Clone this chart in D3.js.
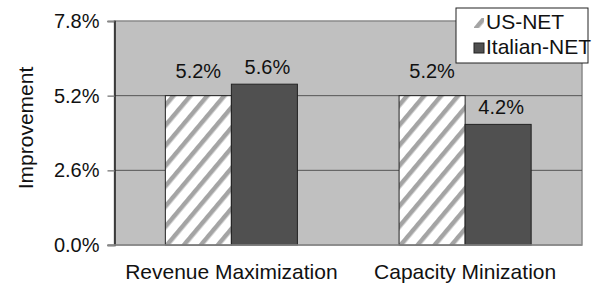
<!DOCTYPE html>
<html>
<head>
<meta charset="utf-8">
<script src="https://cdn.jsdelivr.net/npm/d3@7"></script>
<style>
  body { margin: 0; background: #fff; }
  text { font-family: "Liberation Sans", Arial, sans-serif; fill: #111; }
</style>
</head>
<body>
<svg id="chart" width="595" height="283"></svg>
<script>
// data
let categories = ["Revenue Maximization", "Capacity Minization"];
let seriesNames = ["US-NET", "Italian-NET"];
let usNet = [5.2, 5.2];
let italianNet = [5.6, 4.2];
let yTicks = [0, 2.6, 5.2, 7.8];

let svg = d3.select("#chart");
let margin = { left: 114.5, right: 13, top: 21, bottom: 38 };
let width = 595 - margin.left - margin.right;
let height = 283 - margin.top - margin.bottom;

// hatch pattern for the US-NET bars
let defs = svg.append("defs");
let pat = defs.append("pattern")
  .attr("id", "hatch")
  .attr("patternUnits", "userSpaceOnUse")
  .attr("width", 13).attr("height", 13)
  .attr("patternTransform", "rotate(40)");
pat.append("rect").attr("width", 13).attr("height", 13).attr("fill", "#fff");
pat.append("rect").attr("width", 4.5).attr("height", 13).attr("fill", "#a4a4a4");

let g = svg.append("g").attr("transform", `translate(${margin.left},${margin.top})`);

let x0 = d3.scaleBand().domain(categories).range([0, width])
  .paddingInner(0.435).paddingOuter(0.2175);
let x1 = d3.scaleBand().domain(seriesNames).range([0, x0.bandwidth()]);
let y = d3.scaleLinear().domain([0, 7.8]).range([height, 0]);

// plot area
g.append("rect")
  .attr("width", width).attr("height", height)
  .attr("fill", "#c0c0c0").attr("stroke", "#8a8a8a").attr("stroke-width", 1.5);

// gridlines
g.selectAll(".grid").data(yTicks.slice(1, -1)).enter().append("line")
  .attr("x1", 0).attr("x2", width)
  .attr("y1", d => y(d)).attr("y2", d => y(d))
  .attr("stroke", "#555").attr("stroke-width", 1);

// bars
let rows = categories.map((c, i) => ({ cat: c, vals: [usNet[i], italianNet[i]] }));
let fills = ["url(#hatch)", "#505050"];
let labelOff = [18, 10];

let grp = g.selectAll(".grp").data(rows).enter().append("g")
  .attr("transform", d => `translate(${x0(d.cat)},0)`);

grp.selectAll("rect").data(d => d.vals.map((v, k) => ({ s: seriesNames[k], k: k, v: v })))
  .enter().append("rect")
  .attr("x", d => x1(d.s))
  .attr("y", d => y(d.v))
  .attr("width", x1.bandwidth())
  .attr("height", d => height - y(d.v))
  .attr("fill", d => fills[d.k])
  .attr("stroke", "#222").attr("stroke-width", 1);

grp.selectAll(".lbl").data(d => d.vals.map((v, k) => ({ s: seriesNames[k], k: k, v: v })))
  .enter().append("text")
  .attr("x", d => x1(d.s) + x1.bandwidth() / 2 + (d.k ? 3 : 0))
  .attr("y", d => y(d.v) - labelOff[d.k])
  .attr("text-anchor", "middle")
  .style("font-size", "20px")
  .text(d => d.v.toFixed(1) + "%");

// y axis
let yAxis = g.append("g")
  .call(d3.axisLeft(y).tickValues(yTicks).tickFormat(d => d.toFixed(1) + "%")
    .tickSize(7).tickPadding(8));
yAxis.select(".domain").attr("stroke", "#222").attr("stroke-width", 1.5);
yAxis.selectAll(".tick line").attr("stroke", "#888").attr("stroke-width", 1.5);
yAxis.selectAll(".tick text").style("font-size", "20px").attr("fill", "#111");

// bottom line
g.append("line").attr("x1", -7).attr("x2", width)
  .attr("y1", height).attr("y2", height)
  .attr("stroke", "#888").attr("stroke-width", 1.5);

// x labels
g.selectAll(".xl").data(categories).enter().append("text")
  .attr("x", d => x0(d) + x0.bandwidth() / 2)
  .attr("y", height + 34)
  .attr("text-anchor", "middle")
  .style("font-size", "21px")
  .text(d => d);

// y title
svg.append("text")
  .attr("transform", `translate(33,${margin.top + height / 2 - 5}) rotate(-90)`)
  .attr("text-anchor", "middle")
  .style("font-size", "21px")
  .text("Improvement");

// legend
let leg = svg.append("g").attr("transform", "translate(456,8)");
leg.append("rect").attr("width", 132).attr("height", 55)
  .attr("fill", "#fff").attr("stroke", "#222").attr("stroke-width", 1);
seriesNames.forEach((s, i) => {
  leg.append("rect")
    .attr("x", 18).attr("y", 10 + i * 25)
    .attr("width", 10).attr("height", 10)
    .attr("fill", fills[i])
    .attr("stroke", i ? "#222" : "none");
  leg.append("text")
    .attr("x", 30).attr("y", 21 + i * 25)
    .style("font-size", "21px")
    .text(s);
});
</script>
</body>
</html>
